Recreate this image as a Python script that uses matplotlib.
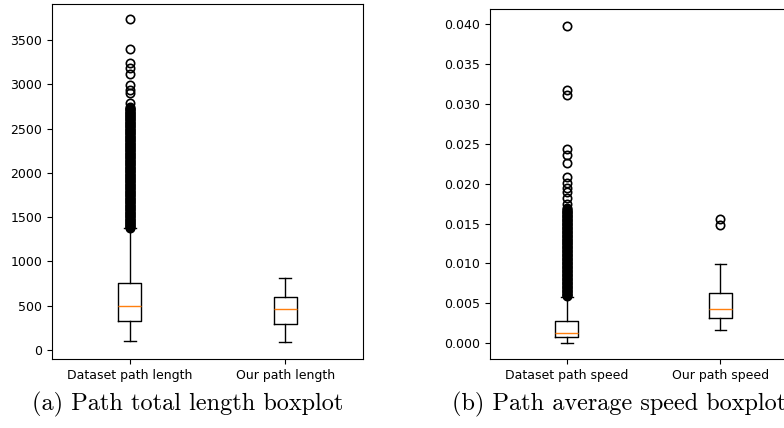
import numpy as np
import matplotlib.pyplot as plt

# values
length_labels = ["Dataset path length", "Our path length"]
length_q1 = [324, 293]
length_med = [500, 459]
length_q3 = [753, 602]
length_lo = [105, 87]
length_hi = [1373, 809]
# dataset outliers: dense band 1380..2740 plus the sparse ones on top
length_fliers_dataset = [1380, 1388, 1396, 1405, 1413, 1422, 1430, 1438, 1447, 1456,
                         1465, 1473, 1482, 1491, 1500, 1508, 1517, 1526, 1535, 1543,
                         1552, 1561, 1570, 1579, 1588, 1596, 1605, 1613, 1622, 1631,
                         1640, 1648, 1657, 1666, 1675, 1684, 1693, 1701, 1710, 1719,
                         1728, 1736, 1745, 1754, 1763, 1771, 1780, 1789, 1798, 1806,
                         1815, 1824, 1833, 1841, 1850, 1859, 1868, 1876, 1885, 1894,
                         1903, 1911, 1920, 1929, 1938, 1946, 1955, 1964, 1973, 1981,
                         1990, 1999, 2008, 2016, 2025, 2034, 2043, 2051, 2060, 2069,
                         2078, 2086, 2095, 2104, 2113, 2121, 2130, 2139, 2148, 2156,
                         2165, 2174, 2183, 2191, 2200, 2209, 2218, 2226, 2235, 2244,
                         2253, 2261, 2270, 2279, 2288, 2296, 2305, 2314, 2323, 2331,
                         2340, 2349, 2358, 2366, 2375, 2384, 2393, 2401, 2410, 2419,
                         2428, 2436, 2445, 2454, 2463, 2471, 2480, 2489, 2498, 2506,
                         2515, 2524, 2533, 2541, 2550, 2559, 2568, 2576, 2585, 2594,
                         2603, 2611, 2620, 2629, 2638, 2646, 2655, 2664, 2673, 2681,
                         2690, 2699, 2708, 2716, 2725, 2733, 2740,
                         2790, 2905, 2935, 2990, 3115, 3180, 3236, 3394, 3733]
length_fliers_ours = []

speed_labels = ["Dataset path speed", "Our path speed"]
speed_q1 = [0.00075, 0.00313]
speed_med = [0.00133, 0.00426]
speed_q3 = [0.00279, 0.00634]
speed_lo = [0.00005, 0.00167]
speed_hi = [0.0058, 0.0099]
speed_fliers_dataset = [0.0059, 0.0060, 0.0061, 0.0062, 0.0063, 0.0064, 0.0065, 0.0066,
                        0.0067, 0.0068, 0.0069, 0.0070, 0.0071, 0.0072, 0.0073, 0.0074,
                        0.0075, 0.0076, 0.0077, 0.0078, 0.0079, 0.0080, 0.0081, 0.0082,
                        0.0083, 0.0084, 0.0085, 0.0086, 0.0087, 0.0088, 0.0089, 0.0090,
                        0.0091, 0.0092, 0.0093, 0.0094, 0.0095, 0.0096, 0.0097, 0.0098,
                        0.0099, 0.0100, 0.0101, 0.0102, 0.0103, 0.0104, 0.0105, 0.0106,
                        0.0107, 0.0108, 0.0109, 0.0110, 0.0111, 0.0112, 0.0113, 0.0114,
                        0.0115, 0.0116, 0.0117, 0.0118, 0.0119, 0.0120, 0.0121, 0.0122,
                        0.0123, 0.0124, 0.0125, 0.0126, 0.0127, 0.0128, 0.0129, 0.0130,
                        0.0131, 0.0132, 0.0133, 0.0134, 0.0135, 0.0136, 0.0137, 0.0138,
                        0.0139, 0.0140, 0.0141, 0.0142, 0.0143, 0.0144, 0.0145, 0.0146,
                        0.0147, 0.0148, 0.0149, 0.0150, 0.0151, 0.0152, 0.0153, 0.0154,
                        0.0155, 0.0156, 0.0157, 0.0158, 0.0159, 0.0160, 0.0161, 0.0162,
                        0.0163, 0.0164, 0.0165, 0.0166, 0.0167, 0.0168, 0.0169,
                        0.0175, 0.0182, 0.0189, 0.0195, 0.0201, 0.0208,
                        0.0226, 0.0236, 0.0244, 0.0311, 0.0317, 0.0398]
speed_fliers_ours = [0.01482, 0.01553]


def make_stats(labels, q1, med, q3, lo, hi, fliers):
    stats = []
    for i in range(len(labels)):
        stats.append(dict(label=labels[i], q1=q1[i], med=med[i], q3=q3[i],
                          whislo=lo[i], whishi=hi[i], fliers=fliers[i]))
    return stats


plt.rcParams['font.size'] = 9
fig = plt.figure(figsize=(7.84, 4.28), dpi=100)

flier_style = dict(marker='o', markerfacecolor='none', markeredgecolor='black',
                   markersize=6, markeredgewidth=1.2)
med_style = dict(color='#ff7f0e', linewidth=1.0)

ax1 = fig.add_axes([0.0663, 0.1612, 0.3967, 0.8306])
ax1.bxp(make_stats(length_labels, length_q1, length_med, length_q3, length_lo,
                   length_hi, [length_fliers_dataset, length_fliers_ours]),
        flierprops=flier_style, medianprops=med_style)
ax1.set_xlim(0.5, 2.5)
ax1.set_ylim(-102, 3912)
ax1.set_yticks(np.arange(0, 3501, 500))

ax2 = fig.add_axes([0.625, 0.1612, 0.3916, 0.8171])
ax2.bxp(make_stats(speed_labels, speed_q1, speed_med, speed_q3, speed_lo,
                   speed_hi, [speed_fliers_dataset, speed_fliers_ours]),
        flierprops=flier_style, medianprops=med_style)
ax2.set_xlim(0.5, 2.5)
ax2.set_ylim(-0.00197, 0.04184)
ax2.set_yticks(np.arange(0, 0.0401, 0.005))
ax2.yaxis.set_major_formatter(plt.FormatStrFormatter('%.3f'))

# captions under each panel (the right one runs off the edge, as in the original)
fig.text(32 / 784, 1 - 410 / 428, "(a) Path total length boxplot",
         family='cmr10', fontsize=17.5, ha='left', va='baseline')
fig.text(452 / 784, 1 - 410 / 428, "(b) Path average speed boxplot",
         family='cmr10', fontsize=17.5, ha='left', va='baseline')

fig.savefig("out.png", dpi=100)
